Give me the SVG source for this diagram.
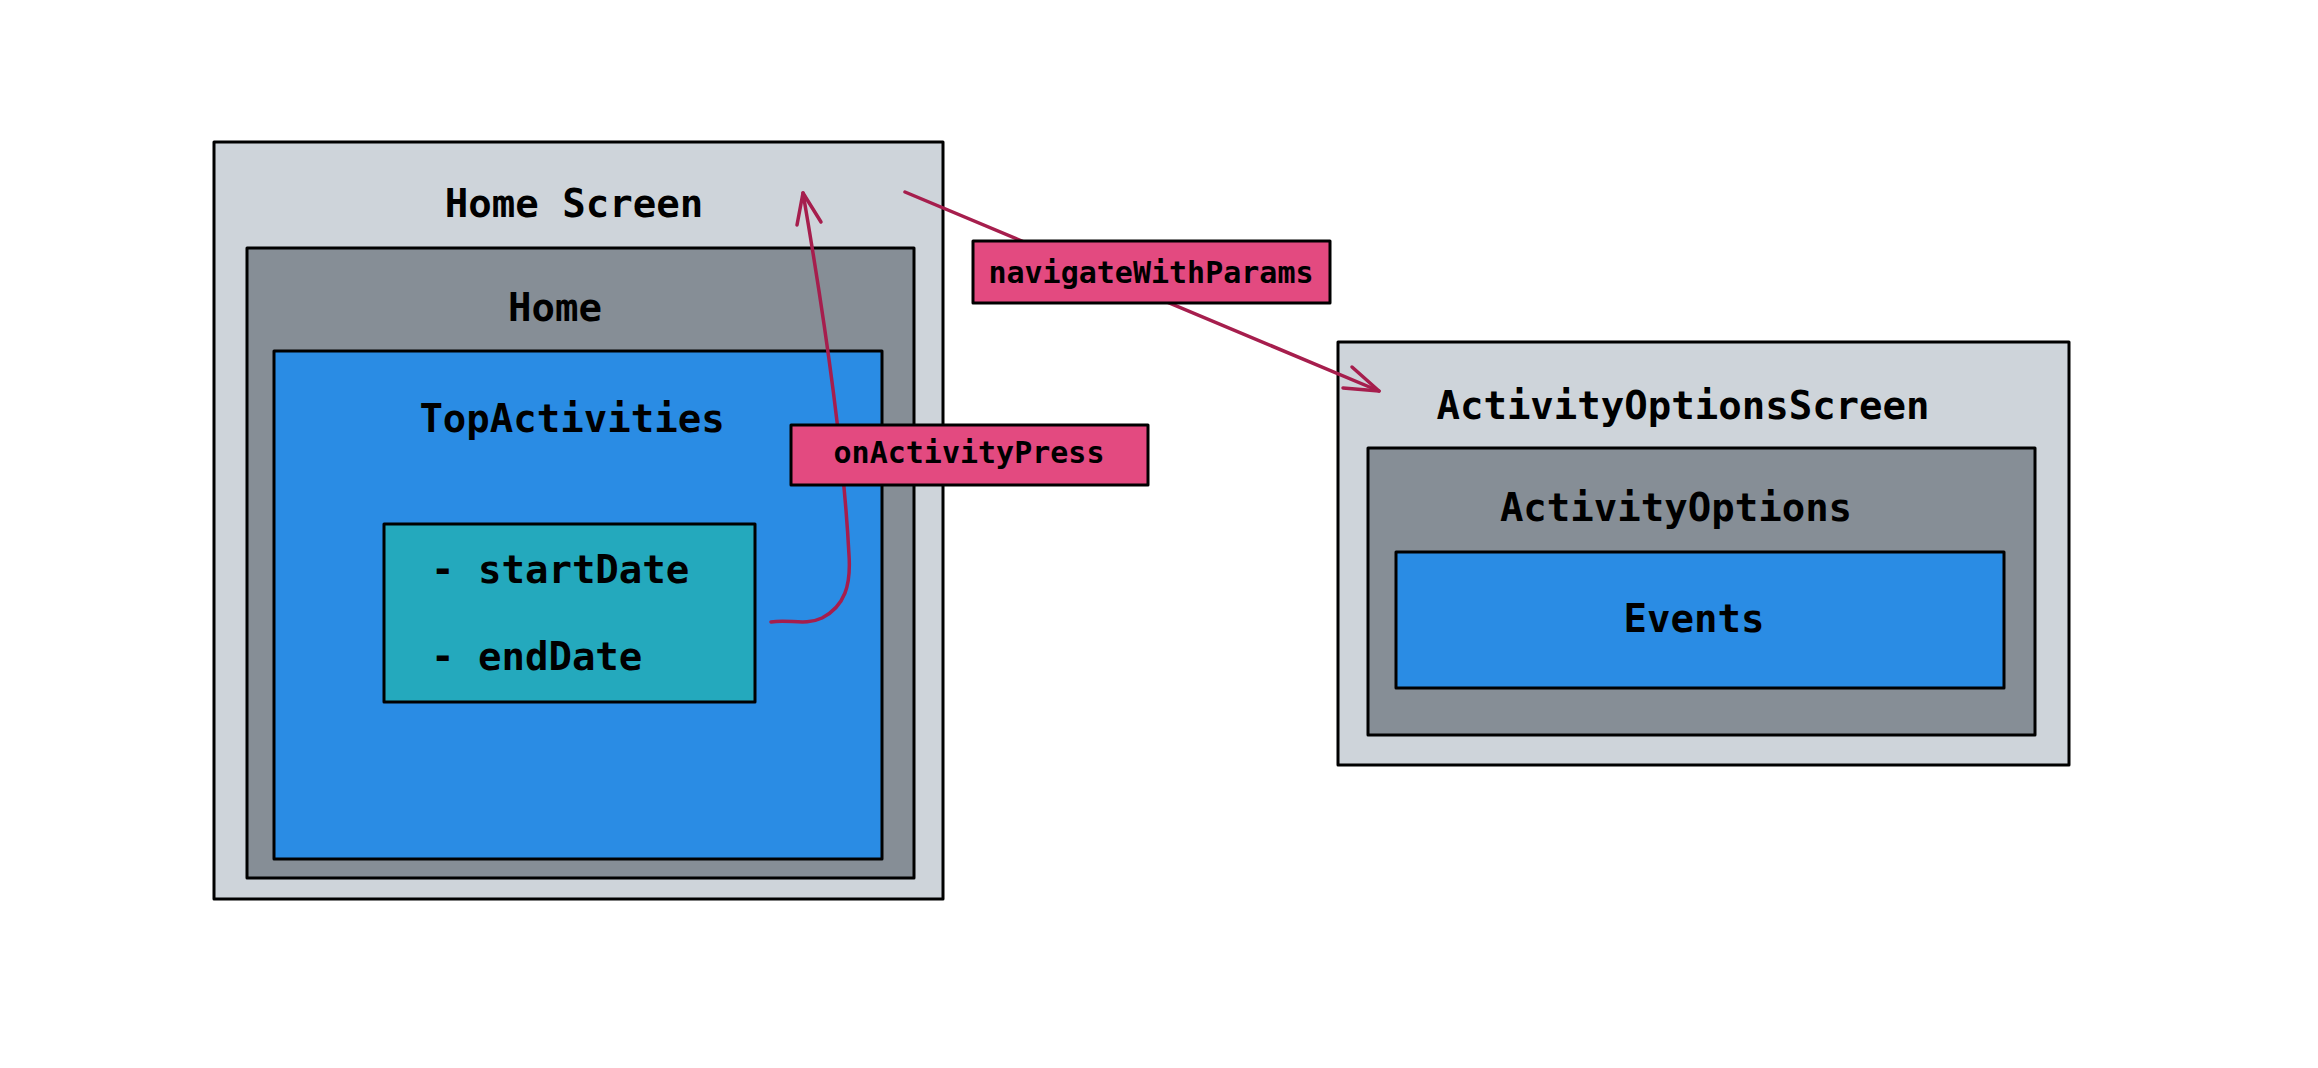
<svg xmlns="http://www.w3.org/2000/svg" width="2318" height="1068" viewBox="0 0 2318 1068">
<style>
.box{stroke:#000;stroke-width:3;stroke-linejoin:round}
.screen{fill:#ced4da}
.comp{fill:#868e96}
.blue{fill:#2a8ce4}
.teal{fill:#24a9bd}
.lbl{fill:#e34a80}
.t{font-family:"DejaVu Sans Mono","Liberation Mono",monospace;font-size:39px;font-weight:bold;fill:#000;text-anchor:middle}
.ts{font-family:"DejaVu Sans Mono","Liberation Mono",monospace;font-size:30px;font-weight:bold;fill:#000;text-anchor:middle}
.conn{fill:none;stroke:#a61e4d;stroke-width:3.5;stroke-linecap:round;stroke-linejoin:round}
</style>
<rect width="2318" height="1068" fill="#fff"/>
<g id="home-screen">
<rect class="box screen" x="214" y="142" width="729" height="757"/>
<text class="t" x="574" y="217">Home Screen</text>
</g>
<g id="home">
<rect class="box comp" x="247" y="248" width="667" height="630"/>
<text class="t" x="555" y="321">Home</text>
</g>
<g id="top-activities">
<rect class="box blue" x="274" y="351" width="608" height="508"/>
<text class="t" x="572" y="432">TopActivities</text>
</g>
<g id="dates">
<rect class="box teal" x="384" y="524" width="371" height="178"/>
<text class="t" x="431" y="583" style="text-anchor:start">- startDate</text>
<text class="t" x="431" y="670" style="text-anchor:start">- endDate</text>
</g>
<g id="activity-options-screen">
<rect class="box screen" x="1338" y="342" width="731" height="423"/>
<text class="t" x="1683" y="419">ActivityOptionsScreen</text>
</g>
<g id="activity-options">
<rect class="box comp" x="1368" y="448" width="667" height="287"/>
<text class="t" x="1676" y="521">ActivityOptions</text>
</g>
<g id="events">
<rect class="box blue" x="1396" y="552" width="608" height="136"/>
<text class="t" x="1694" y="632">Events</text>
</g>
<g id="connectors">
<path class="conn" d="M771,622 C790,619 805,626 822,618 C845,606 851,585 849,555 Q842,420 803,193"/>
<path class="conn" d="M797,225 L803,193 L821,222"/>
<path class="conn" d="M905,192 L1379,391"/>
<path class="conn" d="M1352,367 L1379,391 L1343,388"/>
</g>
<g id="label-onActivityPress">
<rect class="box lbl" x="791" y="425" width="357" height="60"/>
<text class="ts" x="969" y="463">onActivityPress</text>
</g>
<g id="label-navigateWithParams">
<rect class="box lbl" x="973" y="241" width="357" height="62"/>
<text class="ts" x="1151" y="283">navigateWithParams</text>
</g>
</svg>
